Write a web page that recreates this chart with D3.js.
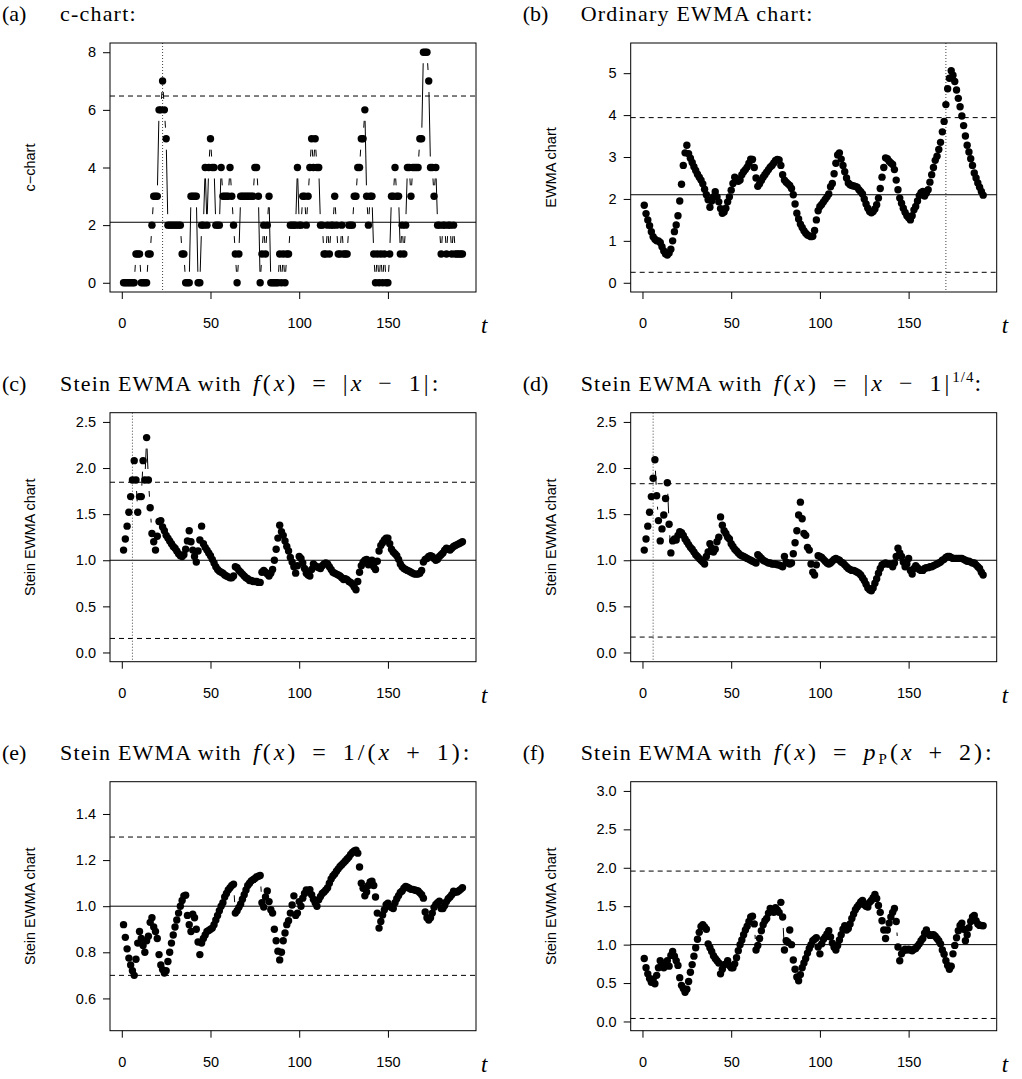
<!DOCTYPE html>
<html>
<head>
<meta charset="utf-8">
<script src="https://cdn.jsdelivr.net/npm/d3@7/dist/d3.min.js"></script>
<style>
  body { margin: 0; background: #fff; }
  .tick text, .ylab { font-family: "Liberation Sans", Arial, sans-serif; font-size: 14.5px; fill: #000; }
  .title { font-family: "Liberation Serif", "Times New Roman", serif; font-size: 22px; white-space: pre; fill: #000; }
  .math { font-size: 24px; letter-spacing: 3px; word-spacing: 5px; }
  .tlab { font-family: "Liberation Serif", serif; font-style: italic; font-size: 23px; }
</style>
</head>
<body>
<div id="chart"></div>
<script>
const nObs = 192;
const timeIdx = d3.range(1, nObs + 1);

// counts (c-chart)
const cChart = [
  0,0,0,0,0,0,0,1,1,1, 0,0,0,0,1,1,2,3,3,3, 6,6,7,6,5,2,2,2,2,2,
  2,2,2,1,1,0,0,0,3,3, 3,3,0,0,2,2,4,2,4,5, 4,4,2,2,2,4,3,3,3,3,
  4,3,2,1,0,1,3,3,3,3, 3,3,3,3,4,4,3,0,1,2, 1,2,3,0,0,0,0,0,1,0,
  1,0,1,1,2,2,2,2,4,2, 2,3,3,2,3,4,5,4,5,4, 4,2,2,1,1,2,1,2,2,3,
  2,1,1,2,1,1,1,2,2,2, 3,3,4,4,5,5,6,3,2,3, 3,1,0,1,0,1,0,1,0,0,
  1,3,3,4,3,3,1,2,1,2, 4,4,3,4,4,4,4,5,5,8, 8,8,7,4,4,3,4,2,2,1,
  2,2,1,2,2,1,2,1,1,1, 1,1
];

// ordinary EWMA
const ewmaChart = [
  1.85,1.65,1.50,1.36,1.22,1.10,1.04,1.00,1.00,0.96, 0.86,0.76,0.69,0.66,0.71,0.80,1.00,1.22,1.38,1.60,
  1.95,2.35,2.80,3.10,3.28,3.08,2.97,2.87,2.77,2.68, 2.59,2.52,2.45,2.36,2.23,2.10,1.98,1.80,1.95,2.05,
  2.17,2.05,1.93,1.77,1.66,1.69,1.78,1.93,2.05,2.21, 2.37,2.52,2.48,2.42,2.45,2.58,2.65,2.70,2.76,2.85,
  2.95,2.94,2.75,2.50,2.30,2.36,2.44,2.52,2.58,2.64, 2.70,2.76,2.80,2.86,2.92,2.94,2.93,2.80,2.58,2.45,
  2.40,2.36,2.32,2.25,2.10,1.88,1.66,1.52,1.40,1.32, 1.24,1.18,1.14,1.12,1.10,1.11,1.25,1.50,1.72,1.82,
  1.87,1.93,1.99,2.05,2.12,2.29,2.37,2.60,2.85,3.05, 3.10,2.95,2.80,2.65,2.50,2.38,2.34,2.32,2.31,2.30,
  2.28,2.22,2.17,2.12,2.00,1.88,1.78,1.70,1.67,1.70, 1.76,1.86,2.02,2.25,2.52,2.75,2.98,2.96,2.90,2.86,
  2.82,2.70,2.45,2.22,2.02,1.90,1.78,1.68,1.60,1.55, 1.50,1.60,1.74,1.82,1.95,2.08,2.15,2.18,2.07,2.14,
  2.22,2.40,2.58,2.75,2.92,3.02,3.18,3.35,3.60,3.85, 4.25,4.63,4.88,5.06,4.95,4.80,4.60,4.40,4.20,3.98,
  3.75,3.50,3.28,3.12,2.96,2.80,2.62,2.50,2.38,2.28, 2.18,2.09
];

// Stein EWMA, f(x) = |x-1|
const steinAbs = [
  1.11,1.23,1.37,1.52,1.69,1.87,2.08,1.87,1.52,1.69, 1.69,2.08,1.87,2.33,1.87,1.57,1.29,1.20,1.11,1.26,
  1.42,1.43,1.36,1.32,1.27,1.24,1.21,1.18,1.15,1.13, 1.10,1.07,1.05,1.04,1.06,1.12,1.21,1.32,1.20,1.11,
  1.04,0.98,1.10,1.22,1.37,1.18,1.14,1.11,1.08,1.05, 1.01,0.97,0.93,0.90,0.88,0.87,0.86,0.84,0.83,0.82,
  0.81,0.81,0.83,0.93,0.92,0.89,0.87,0.85,0.83,0.81, 0.80,0.78,0.78,0.77,0.77,0.77,0.76,0.76,0.87,0.89,
  0.87,0.85,0.83,0.86,0.90,1.00,1.12,1.24,1.38,1.31, 1.27,1.21,1.15,1.10,1.03,0.98,0.93,0.86,0.94,1.04,
  1.02,0.97,0.91,0.86,0.84,0.83,0.90,0.96,0.94,0.93, 0.92,0.91,0.94,0.96,0.97,0.96,0.93,0.90,0.87,0.86,
  0.85,0.84,0.83,0.81,0.79,0.80,0.79,0.77,0.76,0.74, 0.71,0.68,0.77,0.87,0.94,0.98,1.00,1.01,0.95,0.98,
  1.00,0.93,0.90,0.99,1.10,1.16,1.19,1.22,1.24,1.24, 1.18,1.12,1.09,1.07,1.05,1.01,0.96,0.93,0.91,0.90,
  0.89,0.88,0.87,0.86,0.85,0.85,0.85,0.86,0.89,0.98, 1.01,1.02,1.04,1.05,1.04,1.02,1.00,1.01,1.04,1.06,
  1.08,1.11,1.13,1.12,1.11,1.13,1.15,1.16,1.17,1.18, 1.19,1.20
];

// Stein EWMA, f(x) = |x-1|^(1/4)
const steinAbsQuarter = [
  1.11,1.23,1.37,1.52,1.69,1.89,2.09,1.70,1.43,1.21, 1.34,1.49,1.67,1.84,1.39,1.08,1.21,1.23,1.22,1.27,
  1.31,1.30,1.27,1.23,1.20,1.17,1.14,1.12,1.09,1.06, 1.04,1.02,1.00,0.98,0.96,1.04,1.09,1.18,1.13,1.09,
  1.12,1.20,1.25,1.47,1.38,1.32,1.29,1.25,1.23,1.18, 1.15,1.12,1.10,1.08,1.06,1.05,1.04,1.03,1.02,1.01,
  1.00,0.99,0.98,0.97,1.06,1.04,1.02,1.00,0.99,0.98, 0.97,0.97,0.96,0.96,0.96,0.95,0.95,0.94,0.93,1.04,
  0.98,0.97,0.96,0.97,1.07,1.19,1.32,1.49,1.63,1.45, 1.29,1.27,1.14,1.11,0.96,0.87,0.84,0.95,1.05,1.04,
  1.03,1.01,0.99,0.97,0.96,0.97,0.99,1.01,1.02,1.01, 1.00,0.98,0.97,0.95,0.93,0.91,0.90,0.89,0.89,0.88,
  0.87,0.86,0.84,0.81,0.78,0.74,0.70,0.68,0.67,0.70, 0.75,0.80,0.86,0.91,0.95,0.96,0.97,0.96,0.96,0.96,
  0.93,0.97,1.04,1.13,1.08,1.04,0.98,0.93,0.96,1.02, 0.89,0.85,0.91,0.94,0.92,0.90,0.89,0.89,0.91,0.92,
  0.92,0.93,0.93,0.94,0.95,0.96,0.97,0.98,1.00,1.01, 1.03,1.04,1.04,1.03,1.02,1.02,1.02,1.02,1.02,1.02,
  1.01,1.00,0.99,0.99,0.98,0.97,0.97,0.95,0.93,0.91, 0.87,0.84
];

// Stein EWMA, f(x) = 1/(x+1)
const steinInv = [
  0.92,0.865,0.815,0.775,0.745,0.72,0.70,0.77,0.84,0.89, 0.86,0.83,0.80,0.85,0.87,0.93,0.95,0.91,0.89,0.86,
  0.79,0.745,0.725,0.71,0.72,0.76,0.80,0.84,0.875,0.91, 0.94,0.97,1.00,1.025,1.045,1.048,0.96,0.92,0.89,0.965,
  0.95,0.90,0.845,0.79,0.84,0.86,0.875,0.89,0.895,0.90, 0.905,0.92,0.94,0.96,0.98,1.00,1.015,1.04,1.055,1.07,
  1.08,1.09,1.095,0.97,0.98,0.995,1.01,1.03,1.05,1.07, 1.09,1.10,1.11,1.115,1.12,1.127,1.13,1.133,1.015,0.996,
  1.04,1.066,1.02,0.985,0.97,0.90,0.85,0.805,0.767,0.80, 0.85,0.884,0.92,0.937,0.97,1.005,1.045,0.96,0.97,1.02,
  1.00,1.035,1.055,1.07,1.063,1.072,1.05,1.03,1.015,1.00, 1.028,1.042,1.055,1.062,1.07,1.08,1.10,1.118,1.131,1.14,
  1.152,1.162,1.172,1.18,1.188,1.196,1.205,1.213,1.225,1.233, 1.24,1.243,1.23,1.17,1.10,1.078,1.045,1.062,1.09,1.105,
  1.108,1.09,1.04,0.97,0.905,0.934,0.962,0.985,1.007,1.013, 1.00,0.994,0.99,1.015,1.032,1.046,1.06,1.066,1.078,1.086,
  1.082,1.078,1.073,1.073,1.07,1.068,1.066,1.058,1.05,1.035, 0.975,0.95,0.94,0.95,0.97,0.995,1.008,1.015,1.022,0.99,
  0.99,1.003,1.02,1.032,1.04,1.05,1.065,1.06,1.062,1.067, 1.073,1.08
];

// Stein EWMA, f(x) = p_P(x+2)
const steinPois = [
  0.82,0.70,0.62,0.56,0.51,0.55,0.49,0.60,0.70,0.79, 0.74,0.70,0.76,0.79,0.72,0.86,0.91,0.85,0.79,0.73,
  0.57,0.47,0.43,0.38,0.42,0.52,0.64,0.74,0.85,0.96, 1.07,1.16,1.235,1.26,1.23,1.20,1.01,0.96,0.91,0.855,
  0.82,0.79,0.76,0.62,0.68,0.74,0.75,0.79,0.73,0.70, 0.70,0.75,0.83,0.92,1.00,1.06,1.13,1.19,1.24,1.30,
  1.36,1.37,1.27,0.93,0.99,1.08,1.18,1.26,1.31,1.34, 1.41,1.47,1.44,1.42,1.48,1.45,1.42,1.55,1.36,0.93,
  1.05,1.03,1.19,1.00,0.80,0.68,0.58,0.53,0.61,0.70, 0.76,0.82,0.89,0.95,1.00,1.05,1.07,1.09,0.97,0.88,
  1.01,1.07,1.10,1.14,1.18,1.10,1.02,0.965,0.93,0.99, 1.06,1.13,1.20,1.245,1.19,1.21,1.27,1.34,1.40,1.455,
  1.49,1.52,1.555,1.575,1.52,1.50,1.49,1.55,1.575,1.61, 1.652,1.60,1.51,1.42,1.31,1.19,1.08,1.19,1.28,1.36,
  1.42,1.47,1.30,0.97,0.79,0.88,0.92,0.94,0.93,0.94, 0.93,0.92,0.94,0.95,0.98,1.01,1.05,1.08,1.15,1.19,
  1.14,1.12,1.125,1.13,1.11,1.08,1.05,1.01,0.93,0.875, 0.79,0.73,0.68,0.72,0.88,0.99,1.09,1.18,1.25,1.28,
  1.20,1.05,1.13,1.22,1.30,1.36,1.38,1.31,1.27,1.25, 1.248,1.245
];

const xTicks = [0, 50, 100, 150];
const yTicksA = [0, 2, 4, 6, 8];
const yTicksB = [0, 1, 2, 3, 4, 5];
const yTicksCD = [0, 0.5, 1, 1.5, 2, 2.5];
const yTicksE = [0.6, 0.8, 1.0, 1.2, 1.4];
const yTicksF = [0, 0.5, 1, 1.5, 2, 2.5, 3];

const yRanges = [[0, 8], [0, 5.5], [0, 2.5], [0, 2.5], [0.5, 1.5], [0, 3]];
const centerLines = [2.1, 2.1, 1, 1, 1, 1];
const upperLimits = [6.48, 3.94, 1.846, 1.83, 1.30, 1.957];
const lowerLimits = [null, 0.25, 0.152, 0.167, 0.70, 0.039];
const signalTimes = [23, 171, 6, 6, null, null];

const panelLetters = ['(a)', '(b)', '(c)', '(d)', '(e)', '(f)'];
const yLabels = ['c\u2212chart', 'EWMA chart', 'Stein EWMA chart', 'Stein EWMA chart', 'Stein EWMA chart', 'Stein EWMA chart'];
const titleWords = ['c-chart:', 'Ordinary EWMA chart:', 'Stein EWMA with', 'Stein EWMA with', 'Stein EWMA with', 'Stein EWMA with'];
const titleMath = [
  null,
  null,
  [['f', 'i'], ['(', 'r'], ['x', 'i'], [') = |', 'r'], ['x', 'i'], [' \u2212 1|:', 'r']],
  [['f', 'i'], ['(', 'r'], ['x', 'i'], [') = |', 'r'], ['x', 'i'], [' \u2212 1|', 'r'], ['1/4', 'sup'], [':', 'r']],
  [['f', 'i'], ['(', 'r'], ['x', 'i'], [') = 1/(', 'r'], ['x', 'i'], [' + 1):', 'r']],
  [['f', 'i'], ['(', 'r'], ['x', 'i'], [') = ', 'r'], ['p', 'i'], ['P', 'sub'], ['(', 'r'], ['x', 'i'], [' + 2):', 'r']]
];

const series = [cChart, ewmaChart, steinAbs, steinAbsQuarter, steinInv, steinPois];
const yTickSets = [yTicksA, yTicksB, yTicksCD, yTicksCD, yTicksE, yTicksF];
const yFormats = [d3.format('d'), d3.format('d'), d3.format('.1f'), d3.format('.1f'), d3.format('.1f'), d3.format('.1f')];

const width = 1022, height = 1079;
const colLeft = [110, 630.7];
const rowTop = [43, 412.7, 781.7];
const plotW = 366, plotH = 249;
const pointR = 3.7;
const lineGap = 11; // type = "b": segments stop short of the points

const svg = d3.select('#chart').append('svg')
  .attr('width', width)
  .attr('height', height);

function pad(range) {
  const d = range[1] - range[0];
  return [range[0] - 0.04 * d, range[1] + 0.04 * d];
}

function drawTitle(g, x, y, i) {
  g.append('text').attr('class', 'title').attr('x', x).attr('y', y).text(panelLetters[i]);

  g.append('text').attr('class', 'title')
    .attr('x', x + 58).attr('y', y)
    .attr('letter-spacing', '1.2px')
    .text(titleWords[i]);

  if (!titleMath[i]) return;
  const t = g.append('text').attr('class', 'title math')
    .attr('x', x + 58 + 193).attr('y', y);
  let shift = 0;
  titleMath[i].forEach(([txt, style]) => {
    const s = t.append('tspan').text(txt);
    let target = 0;
    if (style === 'i') s.attr('font-style', 'italic');
    if (style === 'sup') { target = -9; s.attr('font-size', '15px').attr('letter-spacing', '1px'); }
    if (style === 'sub') { target = 4; s.attr('font-size', '15px'); }
    if (target !== shift) { s.attr('dy', target - shift); shift = target; }
  });
}

function drawPanel(i) {
  const left = colLeft[i % 2];
  const top = rowTop[Math.floor(i / 2)];
  const values = series[i];

  const x = d3.scaleLinear().domain(pad([1, nObs])).range([left, left + plotW]);
  const y = d3.scaleLinear().domain(pad(yRanges[i])).range([top + plotH, top]);

  const g = svg.append('g');

  // reference lines
  g.append('line')
    .attr('x1', left).attr('x2', left + plotW)
    .attr('y1', y(centerLines[i])).attr('y2', y(centerLines[i]))
    .attr('stroke', '#000').attr('stroke-width', 1);
  [upperLimits[i], lowerLimits[i]].forEach((lim) => {
    if (lim === null) return;
    g.append('line')
      .attr('x1', left).attr('x2', left + plotW)
      .attr('y1', y(lim)).attr('y2', y(lim))
      .attr('stroke', '#000').attr('stroke-width', 1)
      .attr('stroke-dasharray', '5,4');
  });
  if (signalTimes[i] !== null) {
    g.append('line')
      .attr('x1', x(signalTimes[i])).attr('x2', x(signalTimes[i]))
      .attr('y1', top).attr('y2', top + plotH)
      .attr('stroke', '#444').attr('stroke-width', 1)
      .attr('stroke-dasharray', '1,2');
  }

  // connecting segments with gaps (R type = "b")
  for (let k = 1; k < values.length; k++) {
    const x1 = x(timeIdx[k - 1]), y1 = y(values[k - 1]);
    const x2 = x(timeIdx[k]), y2 = y(values[k]);
    const len = Math.hypot(x2 - x1, y2 - y1);
    if (len <= 2 * lineGap) continue;
    const ux = (x2 - x1) / len, uy = (y2 - y1) / len;
    g.append('line')
      .attr('x1', x1 + ux * lineGap).attr('y1', y1 + uy * lineGap)
      .attr('x2', x2 - ux * lineGap).attr('y2', y2 - uy * lineGap)
      .attr('stroke', '#000').attr('stroke-width', 1);
  }

  // points
  g.append('g').selectAll('circle')
    .data(values)
    .enter()
    .append('circle')
    .attr('cx', (d, k) => x(timeIdx[k]))
    .attr('cy', (d) => y(d))
    .attr('r', pointR)
    .attr('fill', '#000');

  // box
  g.append('rect')
    .attr('x', left).attr('y', top)
    .attr('width', plotW).attr('height', plotH)
    .attr('fill', 'none').attr('stroke', '#000').attr('stroke-width', 1);

  // axes
  const xAxis = g.append('g')
    .attr('transform', `translate(0,${top + plotH})`)
    .call(d3.axisBottom(x).tickValues(xTicks).tickSize(7).tickPadding(19).tickFormat(d3.format('d')));
  xAxis.select('.domain').remove();

  const yAxis = g.append('g')
    .attr('transform', `translate(${left},0)`)
    .call(d3.axisLeft(y).tickValues(yTickSets[i]).tickSize(7).tickPadding(7).tickFormat(yFormats[i]));
  yAxis.select('.domain').remove();
  g.selectAll('.tick line').attr('stroke', '#000');
  g.selectAll('.tick text').attr('font-size', null).attr('font-family', null);

  // labels
  g.append('text')
    .attr('class', 'ylab')
    .attr('text-anchor', 'middle')
    .attr('transform', `translate(${left - 75},${top + plotH / 2}) rotate(-90)`)
    .text(yLabels[i]);

  g.append('text')
    .attr('class', 'tlab')
    .attr('x', left + plotW + 5)
    .attr('y', top + plotH + 41)
    .text('t');

  drawTitle(g, left - 108, top - 22, i);
}

for (let i = 0; i < 6; i++) drawPanel(i);
</script>
</body>
</html>
